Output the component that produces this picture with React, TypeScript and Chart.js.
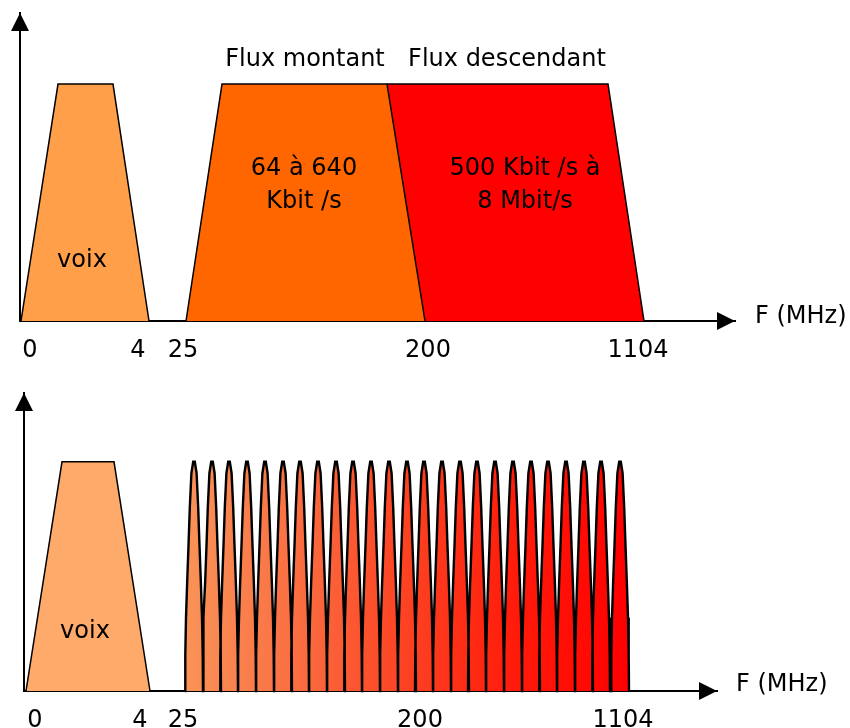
import React, { useEffect, useRef } from 'react';
import { Chart, registerables } from 'chart.js';

Chart.register(...registerables);

const FONT = '"DejaVu Sans", Verdana, sans-serif';

// ---- axis tick labels (frequency breakpoints, schematic positions) ----
const AXIS_LABELS = ['0', '4', '25', '200', '1104'];
const TOP_LABEL_POS = [10, 118, 163, 408, 618];
const BOTTOM_LABEL_POS = [11, 116, 159, 396, 599];

// ---- top panel: trapezoid spectra (schematic x, relative level) ----
const TOP_VOICE_X = [1, 38, 93, 129];
const TOP_VOICE_Y = [0, 1, 1, 0];
const UP_X = [166, 202, 367, 405];
const UP_Y = [0, 1, 1, 0];
const DOWN_X = [367, 588, 624];
const DOWN_Y = [1, 1, 0];

const TOP_TEXTS = ['Flux montant', 'Flux descendant', '64 à 640', 'Kbit /s', '500 Kbit /s à', '8 Mbit/s', 'voix'];
const TOP_TEXT_X = [305, 507, 304, 304, 525, 525, 82];
const TOP_TEXT_Y = [1.0763, 1.0763, 0.6162, 0.4769, 0.6162, 0.4769, 0.2279];

// ---- bottom panel: voice + DMT sub-carriers ----
const BOTTOM_VOICE_X = [2, 38, 90, 126];
const BOTTOM_VOICE_Y = [0, 1, 1, 0];
const SPIKE_CENTERS = [170, 188, 205, 223, 241, 259, 276, 294, 312, 329, 347, 365, 383, 400, 418, 436, 453, 471, 489, 507, 524, 542, 560, 577, 596];
const SPIKE_LEVELS = [0, 0.16, 0.32, 0.48, 0.66, 0.8, 0.95, 1];
const SPIKE_HALF = [9, 8.7, 8, 6.8, 5.3, 4.2, 2.6, 0.8];

const BOTTOM_TEXTS = ['voix'];
const BOTTOM_TEXT_X = [85];
const BOTTOM_TEXT_Y = [0.2312];

const AXIS_TITLE = 'F (MHz)';
const Y_MAX = 1.3;

function pts(xs: number[], ys: number[]) {
  return xs.map((x, i) => ({ x, y: ys[i] }));
}

function spikePoints(centers: number[], levels: number[], halves: number[]) {
  const out: { x: number; y: number }[] = [];
  centers.forEach((c) => {
    for (let i = 0; i < levels.length; i++) out.push({ x: c - halves[i], y: levels[i] });
    for (let i = levels.length - 1; i >= 0; i--) out.push({ x: c + halves[i], y: levels[i] });
  });
  return out;
}

type PanelCfg = {
  height: number;
  axisHeight: number;
  padding: { left: number; right: number; top: number; bottom: number };
  xMax: number;
  labelPos: number[];
  datasets: any[];
  texts: string[];
  textX: number[];
  textY: number[];
  titleOffset: number;
  titleDrop: number;
};

function makeDecor(cfg: PanelCfg) {
  return {
    id: 'decor',
    afterDraw(chart: any) {
      const { ctx, chartArea, scales } = chart;
      const xs = scales.x;
      const ys = scales.y;
      ctx.save();
      ctx.fillStyle = '#000';
      const L = 18;
      const H = 9;
      const ax = Math.round(chartArea.left);
      ctx.beginPath();
      ctx.moveTo(ax, chartArea.top);
      ctx.lineTo(ax - H, chartArea.top + L);
      ctx.lineTo(ax + H, chartArea.top + L);
      ctx.closePath();
      ctx.fill();
      const ay = Math.round(chartArea.bottom);
      ctx.beginPath();
      ctx.moveTo(chartArea.right, ay);
      ctx.lineTo(chartArea.right - L, ay - H);
      ctx.lineTo(chartArea.right - L, ay + H);
      ctx.closePath();
      ctx.fill();
      ctx.font = `24px ${FONT}`;
      ctx.textAlign = 'center';
      ctx.textBaseline = 'alphabetic';
      cfg.texts.forEach((t, i) => {
        ctx.fillText(t, xs.getPixelForValue(cfg.textX[i] - chartArea.left), ys.getPixelForValue(cfg.textY[i]));
      });
      ctx.textAlign = 'left';
      ctx.fillText(AXIS_TITLE, chartArea.right + cfg.titleOffset, chartArea.bottom + cfg.titleDrop);
      ctx.restore();
    },
  };
}

function Panel({ cfg, top }: { cfg: PanelCfg; top: number }) {
  const ref = useRef<HTMLCanvasElement | null>(null);
  useEffect(() => {
    if (!ref.current) return;
    const labelMap: Record<number, string> = {};
    cfg.labelPos.forEach((p, i) => (labelMap[p] = AXIS_LABELS[i]));
    const chart = new Chart(ref.current, {
      type: 'line',
      data: { datasets: cfg.datasets },
      options: {
        animation: false,
        responsive: false,
        devicePixelRatio: 1,
        layout: { padding: cfg.padding },
        plugins: { legend: { display: false }, tooltip: { enabled: false } },
        elements: { point: { radius: 0 }, line: { tension: 0 } },
        scales: {
          x: {
            type: 'linear',
            min: 0,
            max: cfg.xMax,
            grid: { display: false, drawTicks: false },
            border: { display: true, color: '#000', width: 2 },
            afterBuildTicks: (scale: any) => {
              scale.ticks = cfg.labelPos.map((v) => ({ value: v }));
            },
            afterFit: (scale: any) => {
              scale.height = cfg.axisHeight;
            },
            ticks: {
              autoSkip: false,
              maxRotation: 0,
              padding: 15,
              color: '#000',
              font: { family: FONT, size: 24 },
              callback: (v: any) => labelMap[v as number] ?? '',
            },
          },
          y: {
            type: 'linear',
            min: 0,
            max: Y_MAX,
            grid: { display: false, drawTicks: false },
            border: { display: true, color: '#000', width: 2 },
            ticks: { display: false },
            afterFit: (scale: any) => {
              scale.width = 0;
            },
          },
        },
      },
      plugins: [makeDecor(cfg)],
    } as any);
    return () => chart.destroy();
  }, [cfg]);
  return (
    <canvas
      ref={ref}
      width={850}
      height={cfg.height}
      style={{ position: 'absolute', left: 0, top, width: 850, height: cfg.height }}
    />
  );
}

const TOP_CFG: PanelCfg = {
  height: 375,
  axisHeight: 54,
  padding: { left: 20, right: 115, top: 13, bottom: 0 },
  xMax: 715,
  labelPos: TOP_LABEL_POS,
  texts: TOP_TEXTS,
  textX: TOP_TEXT_X,
  textY: TOP_TEXT_Y,
  titleOffset: 20,
  titleDrop: 2,
  datasets: [
    {
      label: 'voix',
      data: pts(TOP_VOICE_X, TOP_VOICE_Y),
      borderColor: '#000',
      borderWidth: 1.5,
      backgroundColor: '#FF9F4A',
      fill: 'origin',
      clip: false,
    },
    {
      label: 'Flux montant',
      data: pts(UP_X, UP_Y),
      borderColor: '#000',
      borderWidth: 1.5,
      backgroundColor: '#FF6600',
      fill: 'origin',
      clip: false,
    },
    {
      label: 'Flux descendant',
      data: pts(DOWN_X, DOWN_Y),
      borderColor: '#000',
      borderWidth: 1.5,
      backgroundColor: '#FF0000',
      fill: 'origin',
      clip: false,
    },
  ],
};

const spikeFill = (ctx: any) => {
  const chart = ctx.chart;
  const { chartArea, scales } = chart;
  if (!chartArea || !scales.x) return '#FF6030';
  const first = SPIKE_CENTERS[0] - SPIKE_HALF[0];
  const last = SPIKE_CENTERS[SPIKE_CENTERS.length - 1] + SPIKE_HALF[0];
  const g = chart.ctx.createLinearGradient(scales.x.getPixelForValue(first), 0, scales.x.getPixelForValue(last), 0);
  g.addColorStop(0, '#F99358');
  g.addColorStop(0.25, '#FA6E42');
  g.addColorStop(0.5, '#FC4222');
  g.addColorStop(0.75, '#FF1A0A');
  g.addColorStop(1, '#FF0000');
  return g;
};

const BOTTOM_TOP = 360;

const BOTTOM_CFG: PanelCfg = {
  height: 368,
  axisHeight: 37,
  padding: { left: 24, right: 133, top: 33, bottom: 0 },
  xMax: 693,
  labelPos: BOTTOM_LABEL_POS,
  texts: BOTTOM_TEXTS,
  textX: BOTTOM_TEXT_X,
  textY: BOTTOM_TEXT_Y,
  titleOffset: 19,
  titleDrop: 0,
  datasets: [
    {
      label: 'voix',
      data: pts(BOTTOM_VOICE_X, BOTTOM_VOICE_Y),
      borderColor: '#000',
      borderWidth: 1.5,
      backgroundColor: '#FDAA6B',
      fill: 'origin',
      clip: false,
    },
    {
      label: 'porteuses',
      data: spikePoints(SPIKE_CENTERS, SPIKE_LEVELS, SPIKE_HALF),
      borderColor: '#000',
      borderWidth: 2.4,
      backgroundColor: spikeFill,
      fill: 'origin',
      clip: false,
    },
  ],
};

export default function App() {
  return (
    <div style={{ position: 'absolute', left: 0, top: 0, width: 850, height: 728, background: '#fff' }}>
      <Panel cfg={TOP_CFG} top={0} />
      <Panel cfg={BOTTOM_CFG} top={BOTTOM_TOP} />
    </div>
  );
}
